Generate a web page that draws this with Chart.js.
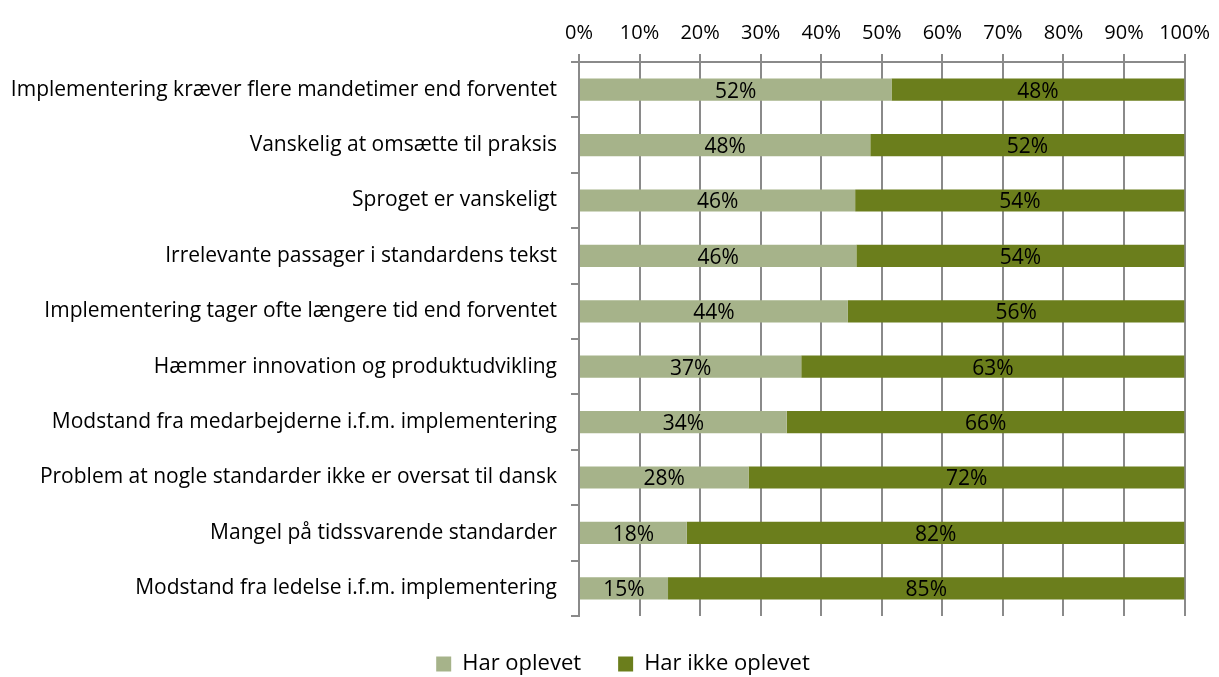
<!DOCTYPE html>
<html>
<head>
<meta charset="utf-8">
<script src="https://cdn.jsdelivr.net/npm/chart.js@4"></script>
<style>
  html, body { margin: 0; padding: 0; background: #fff; }
  #wrap { width: 1219px; height: 677px; }
</style>
</head>
<body>
<div id="wrap"><canvas id="myChart" width="1219" height="677"></canvas></div>
<script>
const labels = [
    "Implementering kræver flere mandetimer end forventet",
    "Vanskelig at omsætte til praksis",
    "Sproget er vanskeligt",
    "Irrelevante passager i standardens tekst",
    "Implementering tager ofte længere tid end forventet",
    "Hæmmer innovation og produktudvikling",
    "Modstand fra medarbejderne i.f.m. implementering",
    "Problem at nogle standarder ikke er oversat til dansk",
    "Mangel på tidssvarende standarder",
    "Modstand fra ledelse i.f.m. implementering"
];
const harOplevet = [51.6, 48.1, 45.6, 45.8, 44.4, 36.7, 34.3, 28.0, 17.8, 14.7];
const harIkkeOplevet = [48.4, 51.9, 54.4, 54.2, 55.6, 63.3, 65.7, 72.0, 82.2, 85.3];
const xTicks = [0, 10, 20, 30, 40, 50, 60, 70, 80, 90, 100];

const FONT = "'Open Sans'";
const gridGray = "#8a8a8a";

// percent labels in the middle of each bar segment
const barLabels = {
    id: "barLabels",
    afterDatasetsDraw(chart) {
        const c = chart.ctx;
        c.save();
        c.font = "21px " + FONT;
        c.fillStyle = "#000";
        c.textAlign = "center";
        c.textBaseline = "middle";
        chart.data.datasets.forEach((ds, i) => {
            chart.getDatasetMeta(i).data.forEach((bar, j) => {
                const mid = (bar.x + bar.base) / 2;
                c.fillText(Math.round(ds.data[j]) + "%", mid, bar.y + 2);
            });
        });
        c.restore();
    }
};

// nudge the legend a bit to the right, like the original
const legendShift = {
    id: "legendShift",
    afterLayout(chart) {
        chart.legend.left += 30;
        chart.legend.right += 30;
    }
};

const ctx = document.getElementById('myChart').getContext('2d');
const myChart = new Chart(ctx, {
    type: 'bar',
    data: {
        labels: labels,
        datasets: [
            {
                label: "Har oplevet",
                data: harOplevet,
                backgroundColor: "#a6b38a",
                barPercentage: 0.4,
                categoryPercentage: 1
            },
            {
                label: "Har ikke oplevet",
                data: harIkkeOplevet,
                backgroundColor: "#6b7e1c",
                barPercentage: 0.4,
                categoryPercentage: 1
            }
        ]
    },
    options: {
        indexAxis: 'y',
        responsive: false,
        animation: false,
        layout: { padding: { top: 0, right: 33, bottom: -8, left: 0 } },
        scales: {
            x: {
                position: 'top',
                stacked: true,
                min: 0,
                max: 100,
                afterBuildTicks: s => { s.ticks = xTicks.map(v => ({ value: v })); },
                afterFit: s => { s.height = 62; },
                ticks: {
                    callback: v => v + "%",
                    color: "#000",
                    font: { family: FONT, size: 20 },
                    padding: 9,
                    maxRotation: 0
                },
                grid: { color: gridGray, lineWidth: 2, tickLength: 8 },
                border: { color: gridGray, width: 2 }
            },
            y: {
                stacked: true,
                afterFit: s => { s.width = 579; },
                ticks: {
                    color: "#000",
                    font: { family: FONT, size: 21 },
                    padding: 14
                },
                grid: { drawOnChartArea: false, color: gridGray, lineWidth: 2, tickLength: 8 },
                border: { color: gridGray, width: 2 }
            }
        },
        plugins: {
            legend: {
                position: 'bottom',
                labels: {
                    color: "#000",
                    font: { family: FONT, size: 22 },
                    boxWidth: 15,
                    boxHeight: 15,
                    padding: 37
                }
            },
            tooltip: { enabled: false }
        }
    },
    plugins: [barLabels, legendShift]
});
</script>
</body>
</html>
